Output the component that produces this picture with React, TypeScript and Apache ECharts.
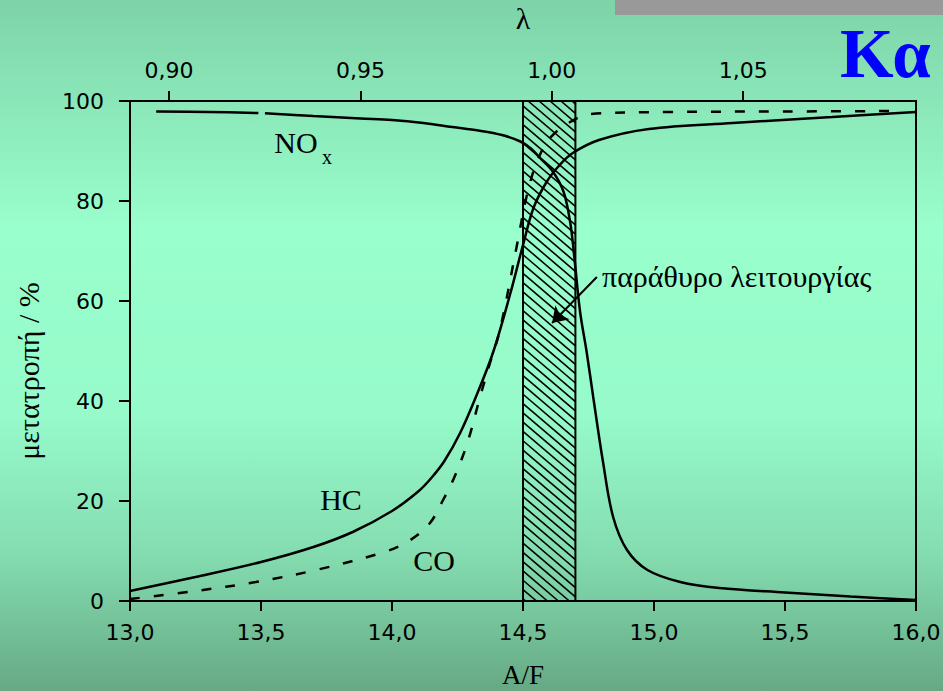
import React, { useEffect, useRef } from "react";
import * as echarts from "echarts";

// Stoichiometric air/fuel ratio linking the top (lambda) axis to A/F
const STOICH_AF = 14.61;

// Tick labels of the top axis (lambda)
const lambdaTicks = [0.9, 0.95, 1.0, 1.05];

// NOx conversion (solid)
const noxAF = [13.1, 13.3, 13.49, 13.5, 13.515, 13.7, 13.88, 14.0, 14.12, 14.23, 14.33, 14.42, 14.49, 14.53, 14.565, 14.615, 14.655, 14.68, 14.695, 14.718, 14.743, 14.768, 14.806, 14.844, 14.897, 14.975, 15.1, 15.25, 15.5, 15.75, 16.0];
const noxVal = [97.9, 97.8, 97.6, null, 97.55, 97.0, 96.5, 96.2, 95.6, 94.8, 94.1, 93.2, 91.9, 90.5, 88.6, 85.8, 81.8, 75.8, 69.2, 57.8, 49.8, 40.8, 27.6, 16.8, 10.2, 6.2, 3.8, 2.6, 1.7, 0.9, 0.2];

// HC conversion (solid)
const hcAF = [13.0, 13.25, 13.5, 13.7, 13.85, 14.0, 14.1, 14.15, 14.2, 14.26, 14.32, 14.385, 14.45, 14.5, 14.54, 14.59, 14.64, 14.69, 14.79, 14.98, 15.3, 15.68, 16.0];
const hcVal = [2.0, 4.8, 7.8, 10.8, 13.8, 18.0, 21.9, 24.6, 28.0, 33.6, 40.8, 49.6, 61.2, 71.2, 78.6, 83.8, 87.2, 89.6, 92.2, 94.4, 95.6, 96.8, 97.8];

// CO conversion (dashed)
const coAF = [13.0, 13.25, 13.48, 13.71, 13.97, 14.07, 14.145, 14.195, 14.24, 14.29, 14.336, 14.374, 14.412, 14.477, 14.515, 14.553, 14.603, 14.68, 14.756, 15.05, 15.5, 15.95];
const coVal = [0.4, 2.0, 3.8, 6.2, 9.8, 12.2, 15.6, 20.2, 25.0, 32.0, 40.8, 47.6, 54.2, 71.2, 81.2, 87.8, 92.6, 95.8, 97.4, 97.8, 97.9, 98.0];

// Operating window (A/F from, A/F to, conversion from, conversion to)
const windowRange = [14.5, 14.7, 0, 100];

// Annotation arrow (A/F, conversion) from label to window
const arrowFrom = [14.782, 64.8];
const arrowTo = [14.611, 55.6];

const SERIF = "'Liberation Serif', 'Times New Roman', serif";
const SANS = "'DejaVu Sans', sans-serif";

const pair = (xs: number[], ys: (number | null)[]) =>
  xs.map((x, i) => [x, ys[i] === null ? "-" : ys[i]]);

export default function App() {
  const ref = useRef<HTMLDivElement>(null);

  useEffect(() => {
    if (!ref.current) return;
    const chart = echarts.init(ref.current, undefined, { renderer: "svg" });

    const lambdaAF = lambdaTicks.map((l) => l * STOICH_AF);
    const axisLineStyle = { color: "#000", width: 2 };

    const option: any = {
      animation: false,
      backgroundColor: new echarts.graphic.LinearGradient(0, 0, 0, 1, [
        { offset: 0, color: "#7ED3A8" },
        { offset: 0.33, color: "#99FFCC" },
        { offset: 0.6, color: "#96FACA" },
        { offset: 0.8, color: "#84DDB0" },
        { offset: 1, color: "#66A984" },
      ]),
      grid: {
        left: 130,
        right: 27,
        top: 101,
        bottom: 90,
        show: true,
        borderColor: "#000",
        borderWidth: 2,
        backgroundColor: "transparent",
        containLabel: false,
        outerBoundsMode: "none",
      },
      xAxis: [
        {
          type: "value",
          position: "bottom",
          min: 13,
          max: 16,
          interval: 0.5,
          name: "A/F",
          nameLocation: "middle",
          nameGap: 60,
          nameTextStyle: { fontFamily: SERIF, fontSize: 27, color: "#000" },
          axisLine: { show: true, onZero: false, lineStyle: axisLineStyle },
          axisTick: { show: true, inside: false, length: 10, lineStyle: axisLineStyle },
          axisLabel: {
            margin: 20,
            fontFamily: SANS,
            fontSize: 22,
            color: "#000",
            formatter: (v: number) => v.toFixed(1).replace(".", ","),
          },
          splitLine: { show: false },
        },
        {
          type: "value",
          position: "top",
          min: 13,
          max: 16,
          name: "λ",
          nameLocation: "middle",
          nameGap: 68,
          nameTextStyle: { fontFamily: SERIF, fontSize: 30, color: "#000" },
          axisLine: { show: true, onZero: false, lineStyle: axisLineStyle },
          axisTick: {
            show: true,
            inside: false,
            length: 10,
            lineStyle: axisLineStyle,
            customValues: lambdaAF,
          },
          axisLabel: {
            margin: 20,
            fontFamily: SANS,
            fontSize: 22,
            color: "#000",
            customValues: lambdaAF,
            formatter: (v: number) => (v / STOICH_AF).toFixed(2).replace(".", ","),
          },
          splitLine: { show: false },
        },
      ],
      yAxis: {
        type: "value",
        min: 0,
        max: 100,
        interval: 20,
        axisLine: { show: true, onZero: false, lineStyle: axisLineStyle },
        axisTick: { show: true, inside: false, length: 11, lineStyle: axisLineStyle },
        axisLabel: { margin: 26, fontFamily: SANS, fontSize: 22, color: "#000" },
        splitLine: { show: false },
      },
      series: [
        {
          type: "custom",
          name: "window",
          xAxisIndex: 0,
          yAxisIndex: 0,
          data: [windowRange],
          encode: { x: [0, 1], y: [2, 3] },
          silent: true,
          z: 1,
          renderItem: (_params: any, api: any) => {
            const a = api.coord([api.value(0), api.value(3)]);
            const b = api.coord([api.value(1), api.value(2)]);
            const x0 = a[0];
            const x1 = b[0];
            const yTop = a[1];
            const yBot = b[1];
            const w = x1 - x0;
            const slope = 0.85;
            const step = 9.3;
            const children: any[] = [];
            for (let c = yTop - slope * w + 3; c < yBot; c += step) {
              let sx = x0;
              let ex = x1;
              if (c < yTop) sx = x0 + (yTop - c) / slope;
              if (c + slope * w > yBot) ex = x0 + (yBot - c) / slope;
              if (ex <= sx) continue;
              children.push({
                type: "line",
                shape: { x1: sx, y1: c + slope * (sx - x0), x2: ex, y2: c + slope * (ex - x0) },
                style: { stroke: "#000", lineWidth: 1.6 },
              });
            }
            children.push({
              type: "rect",
              shape: { x: x0, y: yTop, width: w, height: yBot - yTop },
              style: { fill: "none", stroke: "#000", lineWidth: 2 },
            });
            return { type: "group", children };
          },
        },
        {
          type: "line",
          name: "NOx",
          data: pair(noxAF, noxVal),
          showSymbol: false,
          smooth: 0.35,
          connectNulls: false,
          lineStyle: { color: "#000", width: 2.5 },
          z: 3,
        },
        {
          type: "line",
          name: "HC",
          data: pair(hcAF, hcVal),
          showSymbol: false,
          smooth: 0.35,
          lineStyle: { color: "#000", width: 2.5 },
          z: 3,
        },
        {
          type: "line",
          name: "CO",
          data: pair(coAF, coVal),
          showSymbol: false,
          smooth: 0.35,
          lineStyle: { color: "#000", width: 2.5, type: [10, 14] },
          z: 3,
        },
        {
          type: "lines",
          coordinateSystem: "cartesian2d",
          data: [{ coords: [arrowFrom, arrowTo] }],
          symbol: ["none", "arrow"],
          symbolSize: 15,
          silent: true,
          lineStyle: { color: "#000", width: 2, opacity: 1, curveness: 0 },
          z: 5,
        },
      ],
      graphic: [
        {
          type: "rect",
          shape: { x: 615, y: 0, width: 328, height: 15 },
          style: { fill: "#999999" },
          silent: true,
        },
        {
          type: "text",
          x: 840,
          y: 54,
          style: {
            text: "Κα",
            fontFamily: SERIF,
            fontWeight: "bold",
            fontSize: 69,
            fill: "#0000FF",
            textAlign: "left",
            textVerticalAlign: "middle",
          },
        },
        {
          type: "text",
          x: 28,
          y: 371,
          rotation: Math.PI / 2,
          style: {
            text: "μετατροπή / %",
            fontFamily: SERIF,
            fontSize: 30,
            fill: "#000",
            textAlign: "center",
            textVerticalAlign: "middle",
          },
        },
        {
          type: "text",
          x: 296,
          y: 142,
          style: { text: "NO", fontFamily: SERIF, fontSize: 30, fill: "#000", textAlign: "center", textVerticalAlign: "middle" },
        },
        {
          type: "text",
          x: 327,
          y: 157,
          style: { text: "x", fontFamily: SERIF, fontSize: 20, fill: "#000", textAlign: "center", textVerticalAlign: "middle" },
        },
        {
          type: "text",
          x: 341,
          y: 499,
          style: { text: "HC", fontFamily: SERIF, fontSize: 30, fill: "#000", textAlign: "center", textVerticalAlign: "middle" },
        },
        {
          type: "text",
          x: 434,
          y: 560,
          style: { text: "CO", fontFamily: SERIF, fontSize: 30, fill: "#000", textAlign: "center", textVerticalAlign: "middle" },
        },
        {
          type: "text",
          x: 602,
          y: 276,
          style: {
            text: "παράθυρο λειτουργίας",
            fontFamily: SERIF,
            fontSize: 30,
            fill: "#000",
            textAlign: "left",
            textVerticalAlign: "middle",
          },
        },
      ],
    };

    chart.setOption(option);
    return () => chart.dispose();
  }, []);

  return (
    <div
      ref={ref}
      style={{ position: "fixed", left: 0, top: 0, width: 943, height: 691 }}
    />
  );
}
